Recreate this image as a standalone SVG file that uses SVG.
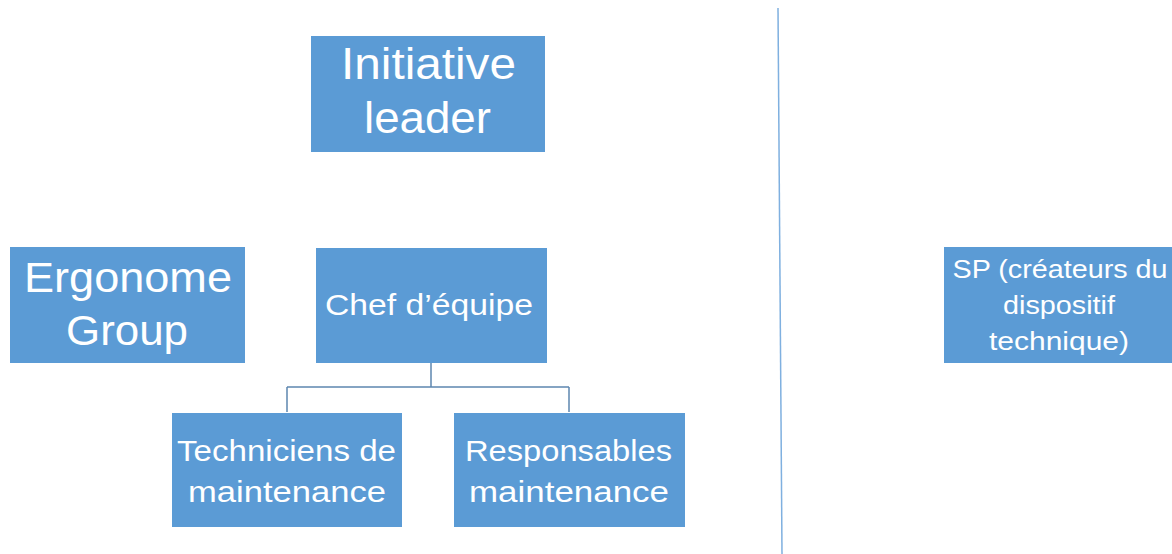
<svg xmlns="http://www.w3.org/2000/svg" width="1172" height="554" viewBox="0 0 1172 554">
<style>
.box{fill:#5B9BD5;}
.t{font-family:"Liberation Sans",Arial,sans-serif;fill:#ffffff;text-anchor:middle;}
.conn{fill:none;stroke:#5E87B0;stroke-width:1.5;}
.sep{fill:none;stroke:#7FB0E0;stroke-width:1.5;}
</style>
<rect x="0" y="0" width="1172" height="554" fill="#ffffff"/>
<g id="connectors">
<path class="conn" d="M431,363 V387 M287,387 H569 M287,387 V412 M569,387 V412"/>
<path class="sep" d="M778,8 L782,554"/>
</g>
<g id="initiative-leader">
<rect class="box" x="311" y="36" width="234" height="116"/>
<text class="t" font-size="45" x="428.5" y="79" textLength="175" lengthAdjust="spacingAndGlyphs">Initiative</text>
<text class="t" font-size="45" x="427.5" y="133" textLength="127" lengthAdjust="spacingAndGlyphs">leader</text>
</g>
<g id="ergonome-group">
<rect class="box" x="10" y="247" width="235" height="116"/>
<text class="t" font-size="42" x="128" y="292" textLength="208" lengthAdjust="spacingAndGlyphs">Ergonome</text>
<text class="t" font-size="42" x="127" y="345" textLength="122" lengthAdjust="spacingAndGlyphs">Group</text>
</g>
<g id="chef-equipe">
<rect class="box" x="316" y="248" width="231" height="115"/>
<text class="t" font-size="30" x="429" y="315" textLength="208" lengthAdjust="spacingAndGlyphs">Chef d’équipe</text>
</g>
<g id="techniciens">
<rect class="box" x="172" y="413" width="230" height="114"/>
<text class="t" font-size="30" x="286.5" y="461" textLength="219" lengthAdjust="spacingAndGlyphs">Techniciens de</text>
<text class="t" font-size="30" x="287" y="502" textLength="198" lengthAdjust="spacingAndGlyphs">maintenance</text>
</g>
<g id="responsables">
<rect class="box" x="454" y="413" width="231" height="114"/>
<text class="t" font-size="30" x="568.5" y="461" textLength="207" lengthAdjust="spacingAndGlyphs">Responsables</text>
<text class="t" font-size="30" x="569" y="502" textLength="200" lengthAdjust="spacingAndGlyphs">maintenance</text>
</g>
<g id="sp">
<rect class="box" x="944" y="247" width="232" height="116"/>
<text class="t" font-size="26" x="1060" y="278" textLength="215" lengthAdjust="spacingAndGlyphs">SP (créateurs du</text>
<text class="t" font-size="26" x="1059" y="314" textLength="112" lengthAdjust="spacingAndGlyphs">dispositif</text>
<text class="t" font-size="26" x="1059" y="350" textLength="140" lengthAdjust="spacingAndGlyphs">technique)</text>
</g>
</svg>
